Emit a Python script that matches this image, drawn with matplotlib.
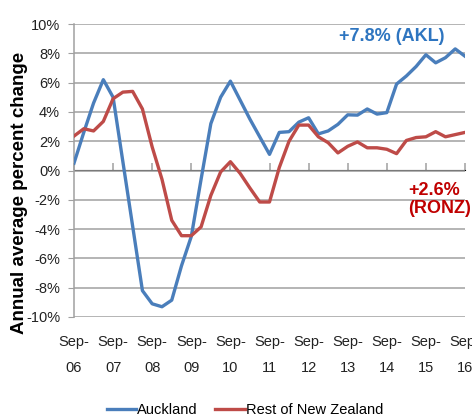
import matplotlib
matplotlib.use("Agg")
import matplotlib.pyplot as plt
import numpy as np

# ---- data (quarterly, Sep-06 .. Sep-16) ----
auckland = [0.5, 2.6, 4.6, 6.2, 5.0, 0.6, -3.8, -8.2, -9.1, -9.3, -8.85, -6.5, -4.5,
            -0.6, 3.2, 5.0, 6.1, 4.8, 3.5, 2.3, 1.1, 2.6, 2.65, 3.3, 3.6, 2.5, 2.7,
            3.15, 3.8, 3.78, 4.2, 3.85, 3.95, 5.9, 6.45, 7.1, 7.9, 7.35, 7.7, 8.3, 7.8]
rest_nz = [2.35, 2.85, 2.7, 3.35, 4.9, 5.35, 5.4, 4.2, 1.6, -0.6, -3.4, -4.45, -4.45,
           -3.85, -1.7, -0.1, 0.6, -0.2, -1.2, -2.15, -2.15, 0.2, 2.0, 3.1, 3.1, 2.3,
           1.9, 1.2, 1.65, 1.95, 1.55, 1.55, 1.45, 1.15, 2.05, 2.25, 2.3, 2.65, 2.3,
           2.45, 2.6]
year_labels = ["Sep-\n06", "Sep-\n07", "Sep-\n08", "Sep-\n09", "Sep-\n10", "Sep-\n11",
               "Sep-\n12", "Sep-\n13", "Sep-\n14", "Sep-\n15", "Sep-\n16"]
y_ticks = [-10, -8, -6, -4, -2, 0, 2, 4, 6, 8, 10]
series_names = ["Auckland", "Rest of New Zealand"]

font = ["Liberation Sans", "DejaVu Sans"]

fig = plt.figure(figsize=(4.72, 4.2), dpi=100)
ax = fig.add_axes([74/472, 103/420, 391/472, 293/420])

x = np.arange(len(auckland))
grid_c = "#A0A0A0"

ax.plot(x, auckland, color="#4A7EBB", lw=2.4, label=series_names[0], solid_joinstyle="round", zorder=3)
ax.plot(x, rest_nz, color="#BE4B48", lw=2.4, label=series_names[1], solid_joinstyle="round", zorder=3)

ax.set_xlim(0, len(auckland) - 1)
ax.set_ylim(-10, 10)
ax.set_yticks(y_ticks)
ax.set_yticklabels([f"{v}%" for v in y_ticks], fontfamily=font, fontsize=10.5, color="#222222")
ax.yaxis.grid(True, color=grid_c, lw=1.1)
ax.set_axisbelow(True)

year_pos = np.arange(0, len(auckland), 4)
ax.set_xticks(year_pos)
ax.set_xticklabels(year_labels, fontfamily=font, fontsize=10.5, color="#222222", linespacing=2.1)
ax.tick_params(axis="x", length=0, pad=13)
ax.tick_params(axis="y", length=4, color=grid_c, pad=6)

for s in ["top", "right", "bottom"]:
    ax.spines[s].set_visible(False)
ax.spines["left"].set_color(grid_c)
ax.spines["left"].set_linewidth(1.1)

# zero axis with tick marks
sec = ax.secondary_xaxis(0.5)
sec.set_xticks(year_pos)
sec.set_xticklabels([])
sec.tick_params(length=5, color=grid_c, width=1.1, direction="out")
sec.spines["bottom"].set_color(grid_c)
sec.spines["bottom"].set_linewidth(1.1)

ax.set_ylabel("Annual average percent change", fontfamily=font, fontweight="bold",
              fontsize=13.5)
ax.yaxis.set_label_coords((28 - 74) / 391, 0.5 + (171 - 193) / 293)

ax.text(32.5, 9.15, "+7.8% (AKL)", color="#2E75C0", fontweight="bold", fontsize=13,
        fontfamily=font, ha="center", va="center")
ax.text(34.15, -2.0, "+2.6%\n(RONZ)", color="#C00000", fontweight="bold", fontsize=13,
        fontfamily=font, ha="left", va="center", linespacing=1.05)

fig.legend(loc="center", bbox_to_anchor=(245 / 472, 1 - 410 / 420), ncol=2, frameon=False,
           prop={"family": font, "size": 10.5}, handlelength=2.0, handletextpad=0.1,
           columnspacing=1.2, borderpad=0.1)

fig.savefig("out.png", dpi=100)
